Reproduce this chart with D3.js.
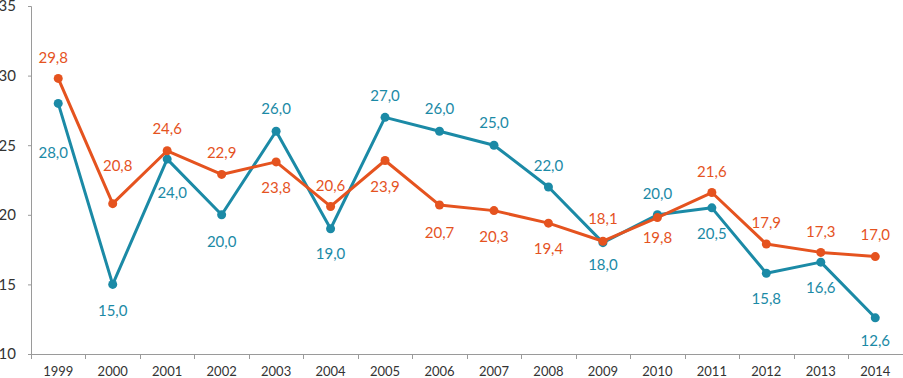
<!DOCTYPE html>
<html lang="pt-br">
<head>
	<meta charset="UTF-8">
	<title>Grafico</title>
	<script src="https://cdn.jsdelivr.net/npm/d3@7"></script>
	<style>
		body { margin: 0; background: #fff; }
		svg { display: block; font-family: Lato, "Open Sans", sans-serif; }
	</style>
</head>
<body>
	<svg id="grafico" width="903" height="378"></svg>
	<script>
	// dados
	var anos = ["1999","2000","2001","2002","2003","2004","2005","2006","2007","2008","2009","2010","2011","2012","2013","2014"];
	var serieLaranja = [29.8, 20.8, 24.6, 22.9, 23.8, 20.6, 23.9, 20.7, 20.3, 19.4, 18.1, 19.8, 21.6, 17.9, 17.3, 17.0];
	var serieAzul = [28.0, 15.0, 24.0, 20.0, 26.0, 19.0, 27.0, 26.0, 25.0, 22.0, 18.0, 20.0, 20.5, 15.8, 16.6, 12.6];
	var yTicks = [10, 15, 20, 25, 30, 35];

	// posicao dos rotulos (dx, dy) em relacao ao ponto
	var rotLaranja = [[-5,-21],[5,-39],[0,-23],[0,-22],[0,25],[0,-21],[0,25],[0,27],[0,25],[0,25],[0,-23],[0,19],[0,-22],[0,-22],[0,-21],[0,-23]];
	var rotAzul = [[-5,49],[0,26],[5,33],[0,26],[0,-23],[0,24],[0,-22],[0,-23],[0,-23],[0,-22],[0,21],[0,-22],[0,25],[0,25],[0,25],[0,22]];

	var svg = d3.select("#grafico");
	var x = d3.scaleBand().domain(anos).range([31, 902.5]);
	var y = d3.scaleLinear().domain([10, 35]).range([354, 6]);
	var cx = function(d, i){ return x(anos[i]) + x.bandwidth() / 2; };
	var fmt = function(v){ return d3.format(".1f")(v).replace(".", ","); };

	// eixo y
	var gy = svg.append("g").attr("transform", "translate(31,0)")
		.call(d3.axisLeft(y).tickValues(yTicks).tickSize(3).tickPadding(12).tickFormat(d3.format("d")));
	gy.select(".domain").attr("stroke", "#9a9a9a");
	gy.selectAll(".tick line").attr("stroke", "#9a9a9a");
	gy.selectAll("text").attr("fill", "#333").style("font-size", "15px").style("font-family", "Lato, sans-serif");

	// eixo x
	var ax = svg.append("g");
	ax.append("line").attr("x1", 31).attr("x2", 903).attr("y1", 354.5).attr("y2", 354.5).attr("stroke", "#9a9a9a");
	var bordas = anos.map(function(a){ return x(a); }).concat([x.range()[1]]);
	ax.selectAll("line.t").data(bordas).enter().append("line")
		.attr("x1", function(d){ return Math.round(d) + 0.5; })
		.attr("x2", function(d){ return Math.round(d) + 0.5; })
		.attr("y1", 354).attr("y2", 359).attr("stroke", "#9a9a9a");
	ax.selectAll("text").data(anos).enter().append("text")
		.attr("x", function(d){ return x(d) + x.bandwidth() / 2; })
		.attr("y", 376)
		.attr("text-anchor", "middle")
		.attr("fill", "#333")
		.style("font-size", "13px")
		.text(function(d){ return d; });

	function desenha(valores, cor, rotulos){
		var linha = d3.line().x(cx).y(function(d){ return y(d); });
		svg.append("path").datum(valores)
			.attr("d", linha).attr("fill", "none")
			.attr("stroke", cor).attr("stroke-width", 3).attr("stroke-linejoin", "round");
		svg.append("g").selectAll("circle").data(valores).enter().append("circle")
			.attr("cx", cx).attr("cy", function(d){ return y(d); })
			.attr("r", 4.5).attr("fill", cor);
		svg.append("g").selectAll("text").data(valores).enter().append("text")
			.attr("x", function(d, i){ return cx(d, i) + rotulos[i][0]; })
			.attr("y", function(d, i){ return y(d) + rotulos[i][1]; })
			.attr("text-anchor", "middle")
			.attr("dominant-baseline", "central")
			.attr("fill", cor)
			.style("font-size", "15px")
			.text(fmt);
	}

	desenha(serieAzul, "#1b8aa6", rotAzul);
	desenha(serieLaranja, "#e5531f", rotLaranja);
	</script>
</body>
</html>
